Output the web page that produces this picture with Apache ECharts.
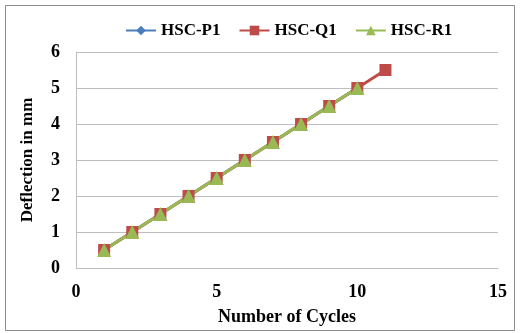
<!DOCTYPE html>
<html>
<head>
<meta charset="utf-8">
<script src="https://cdn.jsdelivr.net/npm/echarts@6/dist/echarts.min.js"></script>
<style>
  html, body { margin: 0; padding: 0; background: #fff; }
  #chart { width: 520px; height: 333px; }
</style>
</head>
<body>
<div id="chart"></div>
<script>
// Deflection growth per loading cycle for three specimens
const cyclesP1 = [1, 2, 3, 4, 5, 6, 7, 8, 9, 10];
const deflP1 = [0.5, 1, 1.5, 2, 2.5, 3, 3.5, 4, 4.5, 5];
const cyclesQ1 = [1, 2, 3, 4, 5, 6, 7, 8, 9, 10, 11];
const deflQ1 = [0.5, 1, 1.5, 2, 2.5, 3, 3.5, 4, 4.5, 5, 5.5];
const cyclesR1 = [1, 2, 3, 4, 5, 6, 7, 8, 9, 10];
const deflR1 = [0.5, 1, 1.5, 2, 2.5, 3, 3.5, 4, 4.5, 5];
const seriesNames = ['HSC-P1', 'HSC-Q1', 'HSC-R1'];

const pairs = (xs, ys) => xs.map((x, i) => [x, ys[i]]);
const font = 'Liberation Serif, Times New Roman, serif';

const chart = echarts.init(document.getElementById('chart'));
chart.setOption({
  animation: false,
  textStyle: { fontFamily: font },
  graphic: [{
    type: 'rect',
    shape: { x: 5.5, y: 5.5, width: 509, height: 325 },
    style: { fill: 'none', stroke: '#8c8c8c', lineWidth: 1 },
    silent: true
  }],
  legend: {
    top: 17,
    left: 120,
    itemWidth: 30,
    itemHeight: 12,
    itemGap: 18,
    textStyle: { fontFamily: font, fontWeight: 'bold', fontSize: 17, color: '#000' },
    data: seriesNames
  },
  grid: { left: 76, right: 22, top: 52, bottom: 65, containLabel: false, outerBoundsMode: 'none' },
  xAxis: {
    type: 'value',
    min: 0, max: 15, interval: 5,
    name: 'Number of Cycles',
    nameLocation: 'middle',
    nameGap: 40,
    nameTextStyle: { fontFamily: font, fontWeight: 'bold', fontSize: 18, color: '#000' },
    axisLine: { show: true, lineStyle: { color: '#bfbfbf', width: 1 } },
    axisTick: { show: false },
    axisLabel: { fontFamily: font, fontWeight: 'bold', fontSize: 18, color: '#000', margin: 15 },
    splitLine: { show: false }
  },
  yAxis: {
    type: 'value',
    min: 0, max: 6, interval: 1,
    name: 'Deflection in mm',
    nameLocation: 'middle',
    nameGap: 40,
    nameTextStyle: { fontFamily: font, fontWeight: 'bold', fontSize: 17, color: '#000' },
    axisLine: { show: true, lineStyle: { color: '#bfbfbf', width: 1 } },
    axisTick: { show: false },
    axisLabel: { fontFamily: font, fontWeight: 'bold', fontSize: 18, color: '#000', margin: 16 },
    splitLine: { show: true, lineStyle: { color: '#bfbfbf', width: 1 } }
  },
  series: [
    {
      name: seriesNames[0], type: 'line', data: pairs(cyclesP1, deflP1),
      symbol: 'diamond', symbolSize: 12,
      lineStyle: { color: '#4a7ebb', width: 3 },
      itemStyle: { color: '#4a7ebb' }
    },
    {
      name: seriesNames[1], type: 'line', data: pairs(cyclesQ1, deflQ1),
      symbol: 'rect', symbolSize: 12,
      lineStyle: { color: '#be4b48', width: 3 },
      itemStyle: { color: '#be4b48' }
    },
    {
      name: seriesNames[2], type: 'line', data: pairs(cyclesR1, deflR1),
      symbol: 'triangle', symbolSize: 14,
      lineStyle: { color: '#98b954', width: 3 },
      itemStyle: { color: '#98b954' }
    }
  ]
});
</script>
</body>
</html>
